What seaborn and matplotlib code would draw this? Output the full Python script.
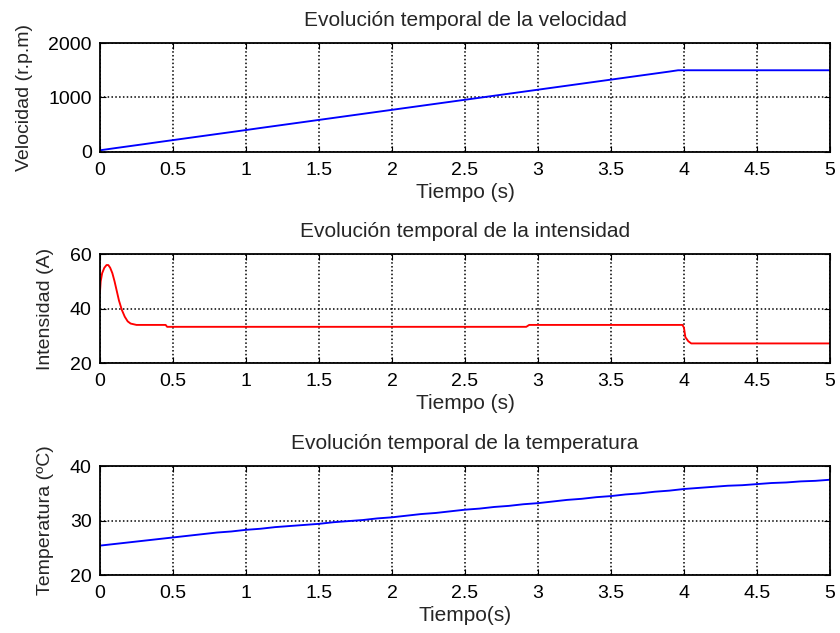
import matplotlib
matplotlib.use("Agg")
import matplotlib.pyplot as plt
import seaborn as sns
import pandas as pd

# --- motor speed (r.p.m.), sampled every 0.1 s during the ramp ---
t_vel = [0.0, 0.1, 0.2, 0.3, 0.4, 0.5, 0.6, 0.7, 0.8, 0.9,
         1.0, 1.1, 1.2, 1.3, 1.4, 1.5, 1.6, 1.7, 1.8, 1.9,
         2.0, 2.1, 2.2, 2.3, 2.4, 2.5, 2.6, 2.7, 2.8, 2.9,
         3.0, 3.1, 3.2, 3.3, 3.4, 3.5, 3.6, 3.7, 3.8, 3.9,
         3.96, 5.0]
velocidad = [30, 68, 105, 142, 180, 217, 254, 291, 328, 365,
             402, 440, 477, 514, 551, 588, 625, 662, 699, 736,
             773, 810, 847, 884, 921, 958, 995, 1032, 1069, 1106,
             1143, 1180, 1217, 1254, 1291, 1328, 1365, 1402, 1439, 1476,
             1500, 1500]

# --- motor current (A) ---
t_int = [0.0, 0.005, 0.015, 0.03, 0.045, 0.057, 0.07, 0.085, 0.1, 0.115,
         0.13, 0.15, 0.17, 0.19, 0.21, 0.25, 0.45, 0.46, 2.92, 2.94,
         3.99, 4.0, 4.01, 4.03, 4.05, 5.0]
intensidad = [46.0, 50.0, 53.0, 55.0, 56.0, 56.0, 55.0, 53.0, 50.0, 46.5,
              43.0, 39.5, 37.0, 35.3, 34.5, 34.0, 34.0, 33.3, 33.3, 34.0,
              34.0, 33.0, 29.5, 28.0, 27.2, 27.2]

# --- winding temperature (ºC), sampled every 0.1 s ---
t_temp = [0.0, 0.1, 0.2, 0.3, 0.4, 0.5, 0.6, 0.7, 0.8, 0.9,
          1.0, 1.1, 1.2, 1.3, 1.4, 1.5, 1.6, 1.7, 1.8, 1.9,
          2.0, 2.1, 2.2, 2.3, 2.4, 2.5, 2.6, 2.7, 2.8, 2.9,
          3.0, 3.1, 3.2, 3.3, 3.4, 3.5, 3.6, 3.7, 3.8, 3.9,
          4.0, 4.1, 4.2, 4.3, 4.4, 4.5, 4.6, 4.7, 4.8, 4.9, 5.0]
temperatura = [25.4, 25.7, 26.0, 26.3, 26.6, 26.9, 27.2, 27.5, 27.8, 28.0,
               28.3, 28.5, 28.8, 29.0, 29.2, 29.4, 29.7, 29.9, 30.1, 30.4,
               30.6, 30.9, 31.2, 31.4, 31.7, 32.0, 32.2, 32.5, 32.7, 33.0,
               33.2, 33.5, 33.8, 34.0, 34.3, 34.5, 34.8, 35.0, 35.3, 35.5,
               35.8, 36.0, 36.2, 36.4, 36.5, 36.7, 36.9, 37.0, 37.2, 37.3, 37.5]

x_ticks = [0, 0.5, 1, 1.5, 2, 2.5, 3, 3.5, 4, 4.5, 5]
x_ticklabels = ["0", "0.5", "1", "1.5", "2", "2.5", "3", "3.5", "4", "4.5", "5"]

sns.set_style("ticks")
plt.rcParams["font.family"] = ["Liberation Sans", "DejaVu Sans"]

fig = plt.figure(figsize=(8.4, 6.33), dpi=100)
fig.patch.set_facecolor("white")

left, width, height = 0.119, 0.869, 0.172
bottoms = [0.760, 0.4265, 0.0916]

panels = [
    dict(t=t_vel, y=velocidad, color="#0000ff",
         ylim=(0, 2000), yticks=[0, 1000, 2000],
         title="Evolución temporal de la velocidad",
         ylabel="Velocidad (r.p.m)", xlabel="Tiempo (s)"),
    dict(t=t_int, y=intensidad, color="#ff0000",
         ylim=(20, 60), yticks=[20, 40, 60],
         title="Evolución temporal de la intensidad",
         ylabel="Intensidad (A)", xlabel="Tiempo (s)"),
    dict(t=t_temp, y=temperatura, color="#0000ff",
         ylim=(20, 40), yticks=[20, 30, 40],
         title="Evolución temporal de la temperatura",
         ylabel="Temperatura (ºC)", xlabel="Tiempo(s)"),
]

for b, p in zip(bottoms, panels):
    ax = fig.add_axes([left, b, width, height])
    df = pd.DataFrame({"t": p["t"], "y": p["y"]})
    sns.lineplot(data=df, x="t", y="y", ax=ax, color=p["color"],
                 linewidth=1.35, estimator=None, sort=False)
    ax.set_xlim(0, 5)
    ax.set_ylim(*p["ylim"])
    ax.set_xticks(x_ticks)
    ax.set_xticklabels(x_ticklabels)
    ax.set_yticks(p["yticks"])
    ax.grid(True, color="black", linestyle=(0, (1, 1.5)), linewidth=1.1)
    ax.tick_params(direction="in", length=4, width=0.8, top=True, right=True,
                   labelsize=14, colors="black")
    ax.tick_params(axis="x", pad=7)
    ax.tick_params(axis="y", pad=6)
    for s in ax.spines.values():
        s.set_visible(True)
        s.set_color("black")
        s.set_linewidth(1.3)
    ax.set_title(p["title"], fontsize=15, pad=12)
    ax.set_ylabel(p["ylabel"], fontsize=14, labelpad=11)
    ax.set_xlabel(p["xlabel"], fontsize=15, labelpad=3)

fig.savefig("out.png", dpi=100, facecolor="white")
